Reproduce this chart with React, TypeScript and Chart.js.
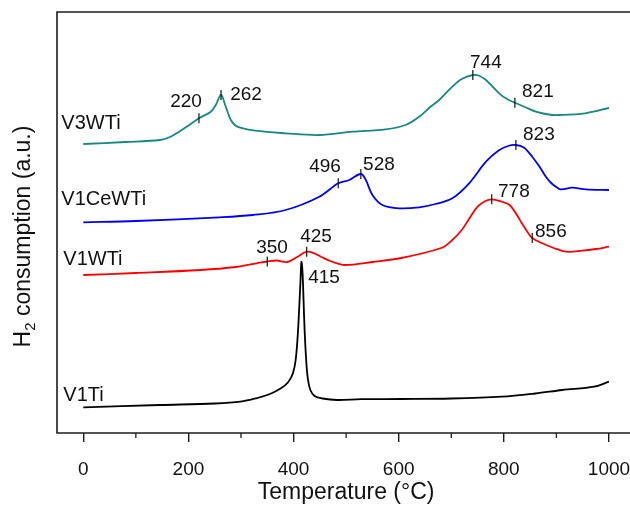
import React, { useEffect, useRef } from 'react';
import { Chart, registerables } from 'chart.js';

Chart.register(...registerables);

// ---------- data (temperature in °C, signal in arbitrary units) ----------
const v3WTiTemp = [0, 80, 146, 165, 182.5, 201.5, 220, 242.6, 252, 262, 271, 280.7, 293, 328, 385, 449, 512, 575, 613, 639, 660, 677, 702, 720, 741, 752, 766, 791, 806, 821, 840, 861, 885, 905, 955, 1000];
const v3WTiSignal = [289, 291, 293, 296, 301.3, 308, 314.7, 321.3, 328, 338, 326.3, 313, 306.3, 302.3, 299.7, 298, 301.3, 303.7, 308, 316.3, 326, 333, 346.3, 354, 358, 357.5, 353, 339.7, 334, 330.3, 326, 321.3, 318.5, 318, 319.7, 325];

const v1CeWTiTemp = [0, 100, 259, 322, 385, 449, 485, 506, 528, 537.5, 550, 569, 601, 639, 670, 702, 734, 766, 790, 808, 823, 838, 854, 867, 880, 890, 899, 908, 930, 956, 1000];
const v1CeWTiSignal = [210.7, 212, 215.7, 218, 223, 236.3, 249.7, 253, 259, 253, 238, 228, 224.7, 225.7, 229, 234.7, 249.7, 271.3, 282.5, 287, 288, 285.5, 276.3, 267, 256.3, 250, 246.3, 243.7, 245.3, 243.7, 243];

const v1WTiTemp = [0, 100, 223, 290, 330, 350, 368, 388, 405, 425, 440, 452, 475, 498, 550, 605, 681, 700, 720, 735, 750, 765, 777, 795, 811, 825, 834, 845, 854, 870, 895, 919, 949, 975, 1000];
const v1WTiSignal = [158, 160, 163, 166, 169.7, 171.5, 172.5, 171, 175.5, 181.3, 179.5, 176.3, 171, 168, 171, 175, 185, 192, 203, 215, 226.3, 232, 233.7, 231.5, 228, 218, 210, 201, 195, 190.5, 185, 181.3, 182.3, 184, 186.3];

const v1TiTemp = [0, 146, 250, 299, 329, 355, 376, 390, 399, 404, 408, 411, 413, 415, 417, 419, 421, 424, 427, 432, 440, 455, 483, 528, 605, 700, 796, 860, 911, 972, 1000];
const v1TiSignal = [25.7, 28, 29.5, 31.3, 34.7, 39, 44.7, 51, 60, 73, 98, 128, 150, 171, 161, 133, 103, 73, 55, 43, 37, 34.5, 33, 33.8, 34, 34.5, 36.3, 39.5, 43, 46.3, 51.3];

const seriesNames = ['V3WTi', 'V1CeWTi', 'V1WTi', 'V1Ti'];
const seriesColors = ['#138a80', '#0000ff', '#ff0000', '#000000'];

// temperatures where the small vertical peak markers sit on each curve
const v3WTiMarks = [220, 262, 741, 821];
const v1CeWTiMarks = [485, 528, 823];
const v1WTiMarks = [350, 425, 777, 854];
const v1TiMarks: number[] = [];

// peak annotations: text, anchor temperature, anchor signal (left / middle of text)
const peakText = ['220', '262', '744', '821', '823', '496', '528', '778', '856', '350', '425', '415'];
const peakTextTemp = [165.4, 279.5, 735.7, 834.6, 836.5, 429.7, 532.3, 789, 859.3, 328.9, 412.5, 427.8];
const peakTextSignal = [331.3, 338, 370, 341.3, 298, 266, 268, 241.3, 201.3, 185, 196.3, 155];

// sample name annotations
const nameTemp = [-41.8, -41.8, -38, -38];
const nameSignal = [310, 234, 174, 38];

const xAllTicks = [0, 100, 200, 300, 400, 500, 600, 700, 800, 900, 1000];
const xTickValues = [0, 200, 400, 600, 800, 1000];

const FONT = '"Liberation Sans", Arial, Helvetica, sans-serif';
const AXIS_COLOR = '#1c1c1c';

const toPoints = (t: number[], s: number[]) => t.map((v, i) => ({ x: v, y: s[i] }));

export default function App() {
  const ref = useRef<HTMLCanvasElement | null>(null);

  useEffect(() => {
    document.body.style.margin = '0';
    const canvas = ref.current;
    if (!canvas) return;

    const temps = [v3WTiTemp, v1CeWTiTemp, v1WTiTemp, v1TiTemp];
    const signals = [v3WTiSignal, v1CeWTiSignal, v1WTiSignal, v1TiSignal];
    const marks = [v3WTiMarks, v1CeWTiMarks, v1WTiMarks, v1TiMarks];

    const overlay = {
      id: 'overlay',
      afterDraw(chart: any) {
        const { ctx, chartArea } = chart;
        const x = chart.scales.x;
        const y = chart.scales.y;
        ctx.save();
        // frame (left, top, bottom)
        ctx.strokeStyle = AXIS_COLOR;
        ctx.lineWidth = 1.6;
        ctx.lineJoin = 'miter';
        ctx.beginPath();
        ctx.moveTo(chartArea.right + 2, chartArea.top);
        ctx.lineTo(chartArea.left, chartArea.top);
        ctx.lineTo(chartArea.left, chartArea.bottom);
        ctx.lineTo(chartArea.right + 2, chartArea.bottom);
        ctx.stroke();

        // minor ticks
        ctx.lineWidth = 1.3;
        xAllTicks.forEach((v) => {
          if (xTickValues.indexOf(v) === -1) {
            const px = x.getPixelForValue(v);
            ctx.beginPath();
            ctx.moveTo(px, chartArea.bottom);
            ctx.lineTo(px, chartArea.bottom + 5);
            ctx.stroke();
          }
        });

        // peak markers
        ctx.lineWidth = 1.2;
        ctx.strokeStyle = '#111';
        marks.forEach((ms, si) => {
          ms.forEach((m) => {
            const idx = temps[si].indexOf(m);
            if (idx < 0) return;
            const px = x.getPixelForValue(m);
            const py = y.getPixelForValue(signals[si][idx]);
            ctx.beginPath();
            ctx.moveTo(px, py - 5);
            ctx.lineTo(px, py + 5);
            ctx.stroke();
          });
        });

        // annotations
        ctx.fillStyle = '#111';
        ctx.textAlign = 'left';
        ctx.textBaseline = 'middle';
        ctx.font = `19px ${FONT}`;
        peakText.forEach((txt, i) => {
          ctx.fillText(txt, x.getPixelForValue(peakTextTemp[i]), y.getPixelForValue(peakTextSignal[i]));
        });
        ctx.font = `20px ${FONT}`;
        seriesNames.forEach((txt, i) => {
          ctx.fillText(txt, x.getPixelForValue(nameTemp[i]), y.getPixelForValue(nameSignal[i]));
        });

        // x title
        ctx.font = `23px ${FONT}`;
        ctx.textAlign = 'center';
        ctx.fillText('Temperature (°C)', (x.getPixelForValue(0) + x.getPixelForValue(1000)) / 2, 493);

        // y title with subscript
        const big = `23px ${FONT}`;
        const small = `15px ${FONT}`;
        ctx.translate(24, (chartArea.top + chartArea.bottom) / 2 + 14);
        ctx.rotate(-Math.PI / 2);
        ctx.textAlign = 'left';
        ctx.font = big;
        const wH = ctx.measureText('H').width;
        const rest = ' consumption (a.u.)';
        const wRest = ctx.measureText(rest).width;
        ctx.font = small;
        const w2 = ctx.measureText('2').width;
        const start = -(wH + w2 + wRest) / 2;
        ctx.font = big;
        ctx.fillText('H', start, 0);
        ctx.font = small;
        ctx.fillText('2', start + wH, 7);
        ctx.font = big;
        ctx.fillText(rest, start + wH + w2, 0);
        ctx.restore();
      },
    };

    const chart = new Chart(canvas, {
      type: 'line',
      data: {
        datasets: seriesNames.map((name, i) => ({
          label: name,
          data: toPoints(temps[i], signals[i]),
          borderColor: seriesColors[i],
          borderWidth: 1.8,
          pointRadius: 0,
          fill: false,
          tension: 0.35,
        })),
      },
      options: {
        responsive: false,
        animation: false,
        events: [],
        layout: { padding: { top: 12, left: 0, right: 0, bottom: 0 } },
        plugins: { legend: { display: false }, tooltip: { enabled: false }, title: { display: false } },
        scales: {
          x: {
            type: 'linear',
            min: -50,
            max: 1040,
            border: { display: false },
            grid: {
              display: true,
              drawOnChartArea: false,
              drawTicks: true,
              tickLength: 9,
              lineWidth: 1.4,
              color: AXIS_COLOR,
            },
            ticks: {
              autoSkip: false,
              maxRotation: 0,
              padding: 16,
              color: '#111',
              font: { family: FONT, size: 19 },
              callback: (v: any) => String(v),
            },
            afterBuildTicks: (s: any) => {
              s.ticks = xTickValues.map((v) => ({ value: v }));
            },
            afterFit: (s: any) => {
              s.height = 72;
              s.paddingLeft = 0;
              s.paddingRight = 0;
            },
          },
          y: {
            type: 'linear',
            min: 0,
            max: 421,
            border: { display: false },
            grid: { display: false },
            ticks: { display: false },
            afterFit: (s: any) => {
              s.width = 57;
              s.paddingTop = 0;
              s.paddingBottom = 0;
            },
          },
        },
      },
      plugins: [overlay],
    });

    return () => chart.destroy();
  }, []);

  return (
    <div style={{ width: 630, height: 505, position: 'relative' }}>
      <canvas ref={ref} width={630} height={505} style={{ display: 'block' }} />
    </div>
  );
}
